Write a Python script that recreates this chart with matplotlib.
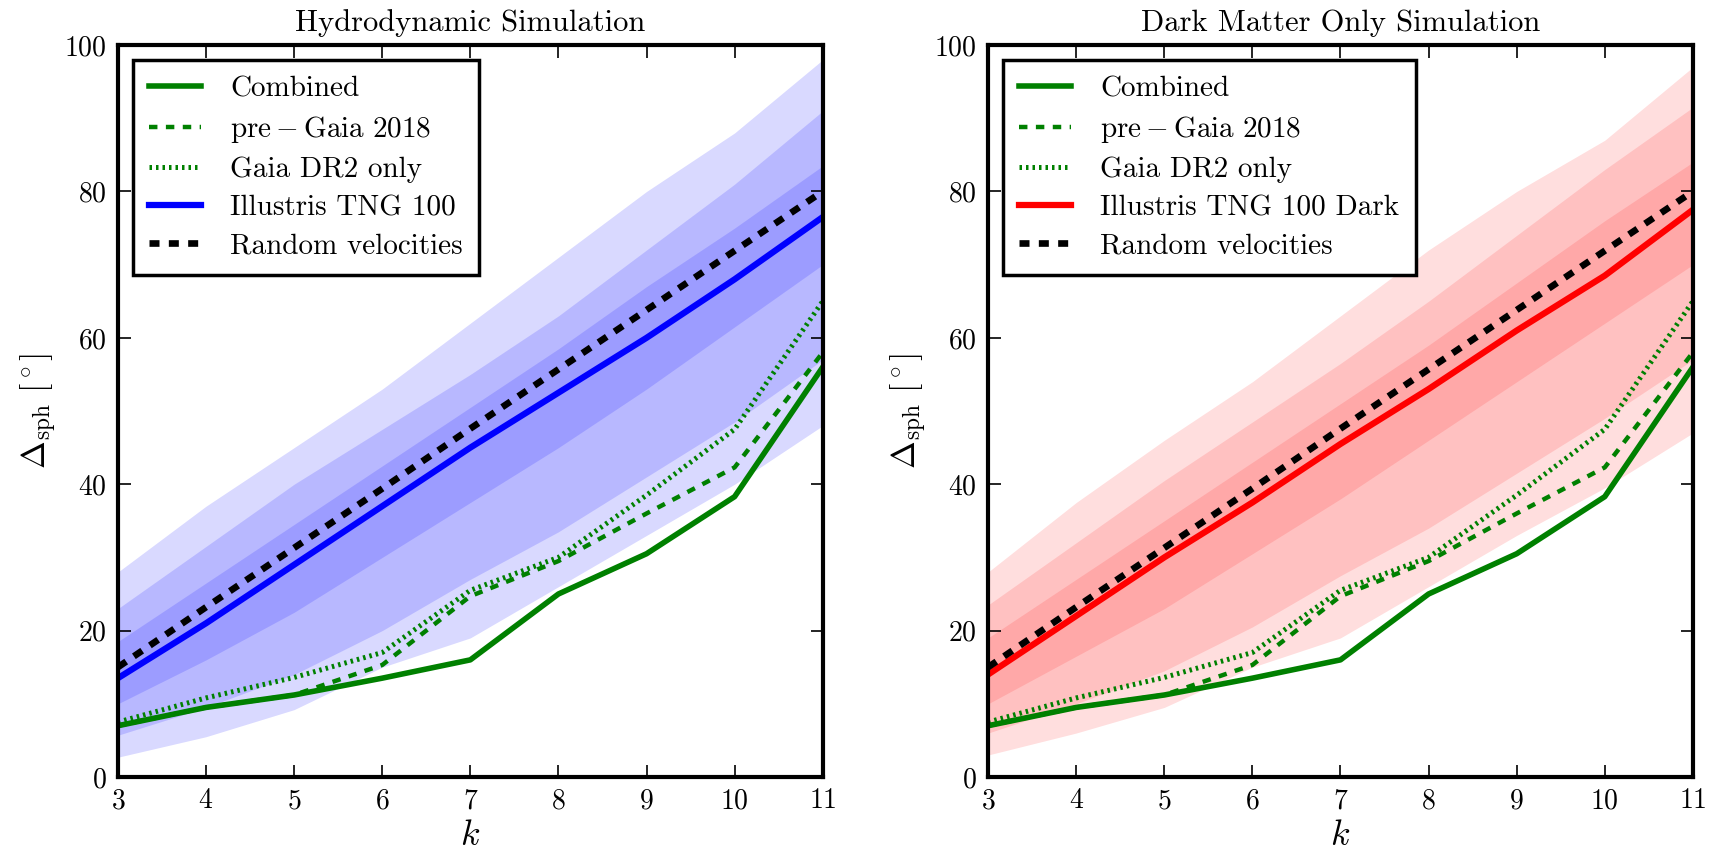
import matplotlib
matplotlib.use("Agg")
import matplotlib.pyplot as plt

plt.rcParams["font.family"] = "serif"
plt.rcParams["font.serif"] = ["cmr10"]
plt.rcParams["mathtext.fontset"] = "cm"
plt.rcParams["axes.unicode_minus"] = False
plt.rcParams["axes.formatter.use_mathtext"] = True

k = [3, 4, 5, 6, 7, 8, 9, 10, 11]

# observed satellites (same in both panels)
combined = [7, 9.5, 11.2, 13.5, 16, 25, 30.5, 38.3, 56]
pre_gaia = [7, 9.5, 11.2, 15.3, 24.7, 29.5, 36, 42.3, 58]
gaia_dr2 = [7.5, 10.8, 13.6, 17, 25.5, 30, 38.5, 47.5, 65]
random_vel = [15, 23.2, 31.3, 39.4, 47.6, 55.7, 63.8, 71.9, 80]

# hydrodynamic run: median and three percentile bands
hydro_med = [13.5, 21, 29, 37, 45, 52.5, 60, 68, 76.5]
hydro_in_lo = [10, 16, 22.5, 30, 37.5, 45, 53, 61.5, 70]
hydro_in_hi = [18.5, 26.5, 34.5, 42.5, 50.5, 58.5, 67, 75, 83.5]
hydro_mid_lo = [5.7, 9.5, 14, 20, 27, 33.5, 41, 48.5, 57]
hydro_mid_hi = [23, 31.5, 40, 47.5, 55, 63, 72, 81, 91]
hydro_out_lo = [2.7, 5.5, 9.2, 15, 19, 26, 33, 40, 48]
hydro_out_hi = [28, 37, 45, 53, 62, 71, 80, 88, 98]

# dark matter only run
dark_med = [14, 22, 30, 37.5, 45.5, 53, 61, 68.5, 77.5]
dark_in_lo = [10, 16.5, 23, 30.5, 38, 46, 54, 62, 70]
dark_in_hi = [19, 27, 35, 43, 51, 59, 67.5, 76, 84]
dark_mid_lo = [6, 10, 14.5, 20.5, 27.5, 34, 41.5, 49, 57]
dark_mid_hi = [23.5, 32, 40.5, 48.5, 56.5, 65, 74, 83, 91.5]
dark_out_lo = [3, 6, 9.5, 15, 19, 26, 33, 39.5, 47]
dark_out_hi = [28, 37.5, 46, 54, 63, 72, 80, 87, 97]

panels = [
    ("Hydrodynamic Simulation", "blue", 0.15, "Illustris TNG 100",
     hydro_med, [(hydro_out_lo, hydro_out_hi), (hydro_mid_lo, hydro_mid_hi), (hydro_in_lo, hydro_in_hi)]),
    ("Dark Matter Only Simulation", "red", 0.13, "Illustris TNG 100 Dark",
     dark_med, [(dark_out_lo, dark_out_hi), (dark_mid_lo, dark_mid_hi), (dark_in_lo, dark_in_hi)]),
]

fig = plt.figure(figsize=(17.19, 8.51), dpi=100)
axes = [fig.add_axes([0.0686, 0.087, 0.410, 0.860]),
        fig.add_axes([0.5748, 0.087, 0.410, 0.860])]

for ax, (title, col, alpha, sim_label, med, bands) in zip(axes, panels):
    for lo, hi in bands:
        ax.fill_between(k, lo, hi, color=col, alpha=alpha, lw=0)

    ax.plot(k, combined, color="green", lw=4, label="Combined")
    ax.plot(k, pre_gaia, color="green", lw=3.2, ls="--", dashes=(1.9, 1.9),
            label=r"$\mathrm{pre-Gaia\ 2018}$")
    ax.plot(k, gaia_dr2, color="green", lw=3.6, ls=":", dashes=(0.5, 0.8), label="Gaia DR2 only")
    ax.plot(k, med, color=col, lw=4.5, label=sim_label)
    ax.plot(k, random_vel, color="black", lw=4.8, ls="--", dashes=(1.5, 1.4), label="Random velocities")

    ax.set_xlim(3, 11)
    ax.set_ylim(0, 100)
    ax.set_xticks(k)
    ax.set_yticks([0, 20, 40, 60, 80, 100])
    ax.tick_params(direction="in", top=True, right=True, length=9, width=1.2,
                   labelsize=20, pad=8)
    for s in ax.spines.values():
        s.set_linewidth(3)
    ax.set_title(title, fontsize=22, pad=10)
    ax.set_xlabel(r"$k$", fontsize=26)
    ax.set_ylabel(r"$\Delta_{\rm sph}\ [^\circ]$", fontsize=24)

    leg = ax.legend(loc="upper left", fontsize=21, fancybox=False, framealpha=1,
                    edgecolor="black", handlelength=1.8, borderpad=0.55,
                    labelspacing=0.4, handletextpad=1.0, borderaxespad=0.5)
    leg.get_frame().set_linewidth(2.5)

fig.savefig("out.png", dpi=100)
